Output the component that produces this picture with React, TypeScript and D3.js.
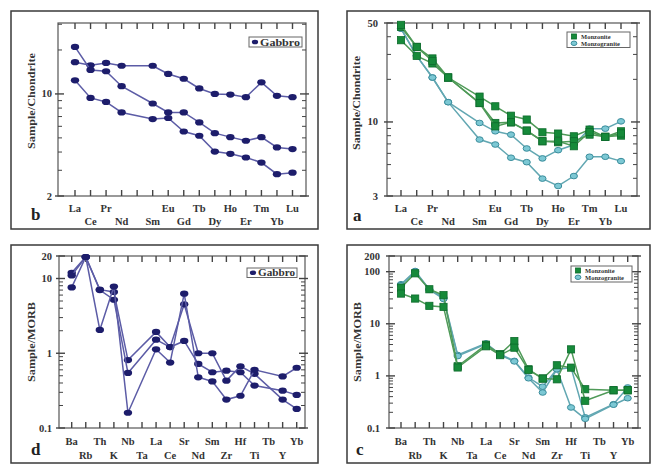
import React from "react";
import * as d3 from "d3";

const W = 651;
const H = 465;

// categories
const reeLabels = ["La", "Ce", "Pr", "Nd", "", "Sm", "Eu", "Gd", "Tb", "Dy", "Ho", "Er", "Tm", "Yb", "Lu"];
const spiderLabels = ["Ba", "Rb", "Th", "K", "Nb", "Ta", "La", "Ce", "Sr", "Nd", "Sm", "Zr", "Hf", "Ti", "Tb", "Y", "Yb"];

// b: gabbro, chondrite normalised (Pm empty)
const gabbroRee1 = [16.5, 15.7, 16.3, 15.6, null, 15.6, 13.7, 12.7, 10.9, 10.0, 9.9, 9.5, 12.0, 9.7, 9.5];
const gabbroRee2 = [21.0, 14.6, 14.3, 11.3, null, 8.6, 7.47, 7.47, 6.38, 5.39, 5.06, 4.78, 5.06, 4.3, 4.19];
const gabbroRee3 = [12.4, 9.39, 8.81, 7.47, null, 6.73, 6.84, 5.53, 5.17, 4.03, 3.89, 3.67, 3.39, 2.82, 2.89];

// a: monzonite / monzogranite, chondrite normalised
const monzoniteRee1 = [46.9, 33.9, 28.1, 20.6, null, 15.1, 12.9, 11.07, 10.4, 8.45, 8.28, 7.92, 8.83, 7.85, 8.59];
const monzoniteRee2 = [37.8, 29.3, 25.9, 20.6, null, 13.6, 9.84, 9.94, 8.69, 7.31, 7.19, 7.31, 8.14, 7.85, 8.01];
const monzoniteRee3 = [48.5, 33.9, 27.0, 20.6, null, 13.6, 9.31, 9.94, 8.69, 7.31, 7.31, 6.74, 8.5, 7.85, 8.3];
const monzograniteRee1 = [45.6, 29.3, 20.6, 13.8, null, 9.84, 8.59, 8.14, 6.5, 5.53, 6.32, 6.9, 8.97, 8.97, 10.1];
const monzograniteRee2 = [45.6, 29.3, 20.6, 13.8, null, 7.51, 6.93, 5.59, 5.2, 3.98, 3.53, 4.15, 5.68, 5.68, 5.29];

// d: gabbro, MORB normalised (Ta, Tb empty)
const gabbroMorb1 = [11.9, 19.4, 7.1, 6.6, 0.81, null, 1.93, 1.21, 4.52, 1.0, 1.0, 0.43, 0.67, 0.53, null, 0.24, 0.18];
const gabbroMorb2 = [11.0, 19.4, 7.0, 5.2, 0.545, null, 1.52, 1.21, 1.46, 0.72, 0.557, 0.585, 0.557, 0.37, null, 0.316, 0.277];
const gabbroMorb3 = [7.6, 19.4, 2.05, 7.8, 0.16, null, 1.13, 0.75, 6.27, 0.477, 0.42, 0.24, 0.27, 0.6, null, 0.49, 0.64];

// c: monzonite / monzogranite, MORB normalised
const monzoniteMorb1 = [49.4, 93, 46, 35.4, 1.53, null, 3.97, 2.63, 4.67, 1.34, 0.89, 1.6, 1.44, 0.555, null, 0.53, 0.53];
const monzoniteMorb2 = [38, 30.5, 22.1, 21.1, 1.45, null, 3.7, 2.5, 3.48, 1.3, 0.89, 0.86, 3.23, 0.333, null, 0.53, 0.53];
const monzograniteMorb1 = [57.4, 103, 46, 31.8, 2.52, null, 4.2, 2.6, 1.94, 0.93, 0.62, 1.34, 1.44, 0.16, null, 0.286, 0.6];
const monzograniteMorb2 = [55, 100, 45, 30, 2.4, null, 4.1, 2.5, 1.9, 0.9, 0.48, 1.34, 0.248, 0.15, null, 0.28, 0.373];

const FONT = "'Liberation Serif', 'DejaVu Serif', serif";

const kinds: any = {
  gabbro: { line: "#5c5ca6", fill: "#1d1d6b", stroke: "#1d1d6b" },
  monzonite: { line: "#4f9a58", fill: "#168a3a", stroke: "#0d6b2c" },
  monzogranite: { line: "#62a7b2", fill: "#7cc8d4", stroke: "#3b8d9c" },
};

function Marker({ kind, cx, cy, s = 1 }: any) {
  const k = kinds[kind];
  if (kind === "monzonite") {
    const h = 3.6 * s;
    return <rect x={cx - h} y={cy - h} width={2 * h} height={2 * h} fill={k.fill} stroke={k.stroke} strokeWidth={0.8} />;
  }
  if (kind === "gabbro") {
    return <ellipse cx={cx} cy={cy} rx={4.2 * s} ry={3.1 * s} fill={k.fill} />;
  }
  return <ellipse cx={cx} cy={cy} rx={3.6 * s} ry={2.8 * s} fill={k.fill} stroke={k.stroke} strokeWidth={1} />;
}

function Panel({ cfg }: any) {
  const { frame, plot, padL, padR, cats, yDomain, yLabels, yTitle, yTitleX, yTitleY, yTitleLen,
    letter, letterX, letterY, series, legend, row1Y, row2Y, labelGap } = cfg;
  const x = d3.scaleLinear().domain([0, cats.length - 1]).range([plot.l + padL, plot.r - padR]);
  const y = d3.scaleLog().domain(yDomain).range([plot.b, plot.t]);
  const line = d3.line<any>().x((d) => x(d.i)).y((d) => y(d.v));

  const yTicks: { v: number; major: boolean }[] = [];
  for (let e = Math.floor(Math.log10(yDomain[0])); e <= Math.ceil(Math.log10(yDomain[1])); e++) {
    for (let m = 1; m <= 9; m++) {
      const v = m * Math.pow(10, e);
      if (v >= yDomain[0] * 0.999 && v <= yDomain[1] * 1.001) {
        const major = m === 1 || yLabels.some((l: number) => Math.abs(l - v) / v < 1e-6);
        yTicks.push({ v, major });
      }
    }
  }

  return (
    <g>
      <rect x={frame.x} y={frame.y} width={frame.w} height={frame.h} fill="#fff" stroke="#3a3a3a" strokeWidth={1.5} />
      <rect x={plot.l} y={plot.t} width={plot.r - plot.l} height={plot.b - plot.t} fill="none" stroke="#555" strokeWidth={1.2} />
      {cats.map((c: string, i: number) => (
        <g key={"xt" + i} stroke="#444" strokeWidth={1.4}>
          <line x1={x(i)} x2={x(i)} y1={plot.t} y2={plot.t + 6} />
          <line x1={x(i)} x2={x(i)} y1={plot.b} y2={plot.b - 6} />
        </g>
      ))}
      {yTicks.map((t, i) => (
        <g key={"yt" + i} stroke="#444" strokeWidth={t.major ? 1.4 : 1}>
          <line x1={plot.l - (t.major ? 3 : 0)} x2={plot.l + (t.major ? 6 : 4)} y1={y(t.v)} y2={y(t.v)} />
          <line x1={plot.r + (t.major ? 3 : 0)} x2={plot.r - (t.major ? 6 : 4)} y1={y(t.v)} y2={y(t.v)} />
        </g>
      ))}
      {yLabels.map((v: number, i: number) => (
        <text key={"yl" + i} x={plot.l - labelGap} y={y(v) + 3.5} textAnchor="end" fontFamily={FONT}
          fontWeight="bold" fontSize={10.5} fill="#333">{String(v)}</text>
      ))}
      {cats.map((c: string, i: number) => (
        <text key={"xl" + i} x={x(i)} y={i % 2 === 0 ? row1Y : row2Y} textAnchor="middle" fontFamily={FONT}
          fontWeight="bold" fontSize={10.5} fill="#333">{c}</text>
      ))}
      <text transform={`translate(${yTitleX},${yTitleY}) rotate(-90)`} textAnchor="middle" fontFamily={FONT}
        fontWeight="bold" fontSize={11} fill="#333" textLength={yTitleLen} lengthAdjust="spacingAndGlyphs">{yTitle}</text>
      <text x={letterX} y={letterY} fontFamily={FONT} fontWeight="bold" fontSize={17} fill="#222">{letter}</text>
      {series.map((s: any, si: number) => {
        const pts = s.values.map((v: number | null, i: number) => ({ i, v })).filter((p: any) => p.v != null);
        return (
          <g key={"s" + si}>
            <path d={line(pts) || ""} fill="none" stroke={kinds[s.kind].line} strokeWidth={1.5} />
            {pts.map((p: any, pi: number) => (
              <Marker key={pi} kind={s.kind} cx={x(p.i)} cy={y(p.v)} />
            ))}
          </g>
        );
      })}
      {legend.type === "gabbro" ? (
        <g>
          <rect x={legend.x} y={legend.y} width={legend.w} height={legend.h} fill="#fff" stroke="#666" strokeWidth={1} />
          <Marker kind="gabbro" cx={legend.x + 6} cy={legend.y + legend.h / 2} s={0.75} />
          <text x={legend.x + 11} y={legend.y + legend.h / 2 + 3.6} fontFamily={FONT} fontWeight="bold" fontSize={10.5}
            fill="#333" textLength={legend.w - 13} lengthAdjust="spacingAndGlyphs">Gabbro</text>
        </g>
      ) : (
        <g>
          <rect x={legend.x} y={legend.y} width={legend.w} height={legend.h} fill="#fff" stroke="#666" strokeWidth={1} />
          <Marker kind="monzonite" cx={legend.x + 7} cy={legend.y + 4.5} s={0.7} />
          <text x={legend.x + 14} y={legend.y + 6.8} fontFamily={FONT} fontWeight="bold" fontSize={6.5} fill="#333">Monzonite</text>
          <Marker kind="monzogranite" cx={legend.x + 7} cy={legend.y + 11.3} s={0.8} />
          <text x={legend.x + 14} y={legend.y + 13.6} fontFamily={FONT} fontWeight="bold" fontSize={6.5} fill="#333">Monzogranite</text>
        </g>
      )}
    </g>
  );
}

const panels: any[] = [
  {
    frame: { x: 11, y: 11, w: 307, h: 218 },
    plot: { l: 58, t: 23, r: 306, b: 196 },
    padL: 17, padR: 13.5,
    cats: reeLabels,
    yDomain: [2, 30.6], yLabels: [2, 10], labelGap: 6,
    yTitle: "Sample/Chondrite", yTitleX: 35, yTitleY: 101, yTitleLen: 96,
    letter: "b", letterX: 31, letterY: 220,
    row1Y: 212, row2Y: 225,
    series: [
      { kind: "gabbro", values: gabbroRee1 },
      { kind: "gabbro", values: gabbroRee2 },
      { kind: "gabbro", values: gabbroRee3 },
    ],
    legend: { type: "gabbro", x: 249, y: 37, w: 53, h: 10 },
  },
  {
    frame: { x: 347, y: 11, w: 303, h: 218 },
    plot: { l: 387, t: 23, r: 637, b: 196 },
    padL: 14, padR: 16,
    cats: reeLabels,
    yDomain: [3, 50], yLabels: [3, 10, 50], labelGap: 9,
    yTitle: "Sample/Chondrite", yTitleX: 360, yTitleY: 103, yTitleLen: 94,
    letter: "a", letterX: 353, letterY: 221,
    row1Y: 212, row2Y: 225,
    series: [
      { kind: "monzogranite", values: monzograniteRee1 },
      { kind: "monzogranite", values: monzograniteRee2 },
      { kind: "monzonite", values: monzoniteRee1 },
      { kind: "monzonite", values: monzoniteRee2 },
      { kind: "monzonite", values: monzoniteRee3 },
    ],
    legend: { type: "granite", x: 567, y: 32, w: 63, h: 15.5 },
  },
  {
    frame: { x: 11, y: 245, w: 307, h: 218 },
    plot: { l: 59, t: 256, r: 305, b: 428 },
    padL: 12.7, padR: 8.3,
    cats: spiderLabels,
    yDomain: [0.1, 20], yLabels: [0.1, 1, 10, 20], labelGap: 7,
    yTitle: "Sample/MORB", yTitleX: 35, yTitleY: 342, yTitleLen: 80,
    letter: "d", letterX: 31, letterY: 455,
    row1Y: 445, row2Y: 459,
    series: [
      { kind: "gabbro", values: gabbroMorb1 },
      { kind: "gabbro", values: gabbroMorb2 },
      { kind: "gabbro", values: gabbroMorb3 },
    ],
    legend: { type: "gabbro", x: 247, y: 268, w: 50, h: 9.5 },
  },
  {
    frame: { x: 347, y: 245, w: 303, h: 218 },
    plot: { l: 389, t: 256, r: 638, b: 428 },
    padL: 12, padR: 10.3,
    cats: spiderLabels,
    yDomain: [0.1, 200], yLabels: [0.1, 1, 10, 100, 200], labelGap: 9,
    yTitle: "Sample/MORB", yTitleX: 361, yTitleY: 342, yTitleLen: 80,
    letter: "c", letterX: 356, letterY: 455,
    row1Y: 445, row2Y: 459,
    series: [
      { kind: "monzogranite", values: monzograniteMorb1 },
      { kind: "monzogranite", values: monzograniteMorb2 },
      { kind: "monzonite", values: monzoniteMorb1 },
      { kind: "monzonite", values: monzoniteMorb2 },
    ],
    legend: { type: "granite", x: 571, y: 266, w: 61, h: 16 },
  },
];

export default function App() {
  return (
    <svg width={W} height={H} style={{ position: "absolute", left: 0, top: 0, background: "#fff" }}>
      <rect width={W} height={H} fill="#fff" />
      {panels.map((p, i) => (
        <Panel key={i} cfg={p} />
      ))}
    </svg>
  );
}
